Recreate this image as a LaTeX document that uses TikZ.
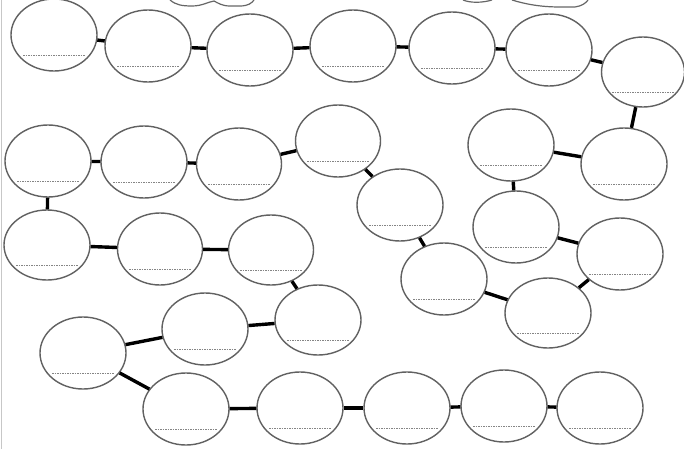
\documentclass[tikz,border=0pt]{standalone}
\usetikzlibrary{shapes.geometric}
\begin{document}
\begin{tikzpicture}[x=1pt,y=-1pt,
  bub/.style={ellipse,draw=black!62,line width=1.4pt,minimum width=86pt,minimum height=72pt,inner sep=0pt},
  link/.style={draw=black,line width=3.4pt},
  dots/.style={draw=black!48,line width=0.8pt,dash pattern=on 1.5pt off 1pt}]
\useasboundingbox (0,0) rectangle (684,449);
\fill[white] (0,0) rectangle (684,449);
\draw[black!22,line width=1pt] (1,0) -- (1,449);
% partial shapes at top edge
\draw[black!60,line width=1.2pt] (170,0) .. controls (176,5) and (182,6) .. (192,6) .. controls (202,6) and (208,2) .. (214,1) .. controls (218,3) and (222,6) .. (230,6) -- (240,6) .. controls (248,6) and (252,3) .. (254,0);
\draw[black!60,line width=1.2pt] (463,0) .. controls (470,3) and (482,3) .. (492,0);
\draw[black!60,line width=1.2pt] (512,0) .. controls (525,4) and (540,7) .. (560,7) -- (575,7) .. controls (582,6) and (586,3) .. (588,0);
% bubbles
\node[bub] (a1) at (54,35) {};
\node[bub] (a2) at (148,46) {};
\node[bub] (a3) at (250,50) {};
\node[bub] (a4) at (353,46) {};
\node[bub] (a5) at (452,48) {};
\node[bub] (a6) at (549,50) {};
\node[bub,minimum width=83pt,minimum height=70pt] (a7) at (643,72) {};
\node[bub] (b1) at (48,161) {};
\node[bub] (b2) at (144,162) {};
\node[bub,minimum width=85pt] (b3) at (239,164) {};
\node[bub,minimum width=85pt] (b4) at (338,141) {};
\node[bub,minimum height=70pt] (c1) at (47,245) {};
\node[bub,minimum width=85pt] (c2) at (160,249) {};
\node[bub,minimum width=85pt,minimum height=70pt] (c3) at (271,250) {};
\node[bub] (d1) at (400,205) {};
\node[bub] (d2) at (444,279) {};
\node[bub,minimum height=70pt] (d3) at (548,313) {};
\node[bub] (d4) at (620,254) {};
\node[bub] (d5) at (516,227) {};
\node[bub] (d6) at (511,145) {};
\node[bub] (d7) at (624,164) {};
\node[bub,minimum height=70pt] (e1) at (318,320) {};
\node[bub] (e2) at (205,329) {};
\node[bub] (e3) at (83,353) {};
\node[bub] (f1) at (186,409) {};
\node[bub] (f2) at (300,408) {};
\node[bub] (f3) at (407,408) {};
\node[bub] (f4) at (504,406) {};
\node[bub] (f5) at (600,408) {};
% dotted writing lines
\foreach \n in {a1,a2,a3,a4,a5,a6,a7,b1,b2,b3,b4,c1,c2,c3,d1,d2,d3,d4,d5,d6,d7,e1,e2,e3,f1,f2,f3,f4,f5}{
  \path[dots] ([xshift=-31pt,yshift=-20pt]\n.center) -- ([xshift=31pt,yshift=-20pt]\n.center);
}
% connectors
\draw[link] (a1) -- (a2);
\draw[link] (a2) -- (a3);
\draw[link] (a3) -- (a4);
\draw[link] (a4) -- (a5);
\draw[link] (a5) -- (a6);
\draw[link] (a6) -- (a7);
\draw[link] (a7) -- (d7);
\draw[link] (d7) -- (d6);
\draw[link] (d6) -- (d5);
\draw[link] (d5) -- (d4);
\draw[link] (d4) -- (d3);
\draw[link] (d3) -- (d2);
\draw[link] (d2) -- (d1);
\draw[link] (d1) -- (b4);
\draw[link] (b4) -- (b3);
\draw[link] (b3) -- (b2);
\draw[link] (b2) -- (b1);
\draw[link] (b1) -- (c1);
\draw[link] (c1) -- (c2);
\draw[link] (c2) -- (c3);
\draw[link] (c3) -- (e1);
\draw[link] (e1) -- (e2);
\draw[link] (e2) -- (e3);
\draw[link] (e3) -- (f1);
\draw[link] (f1) -- (f2);
\draw[link] (f2) -- (f3);
\draw[link] (f3) -- (f4);
\draw[link] (f4) -- (f5);
\end{tikzpicture}
\end{document}
